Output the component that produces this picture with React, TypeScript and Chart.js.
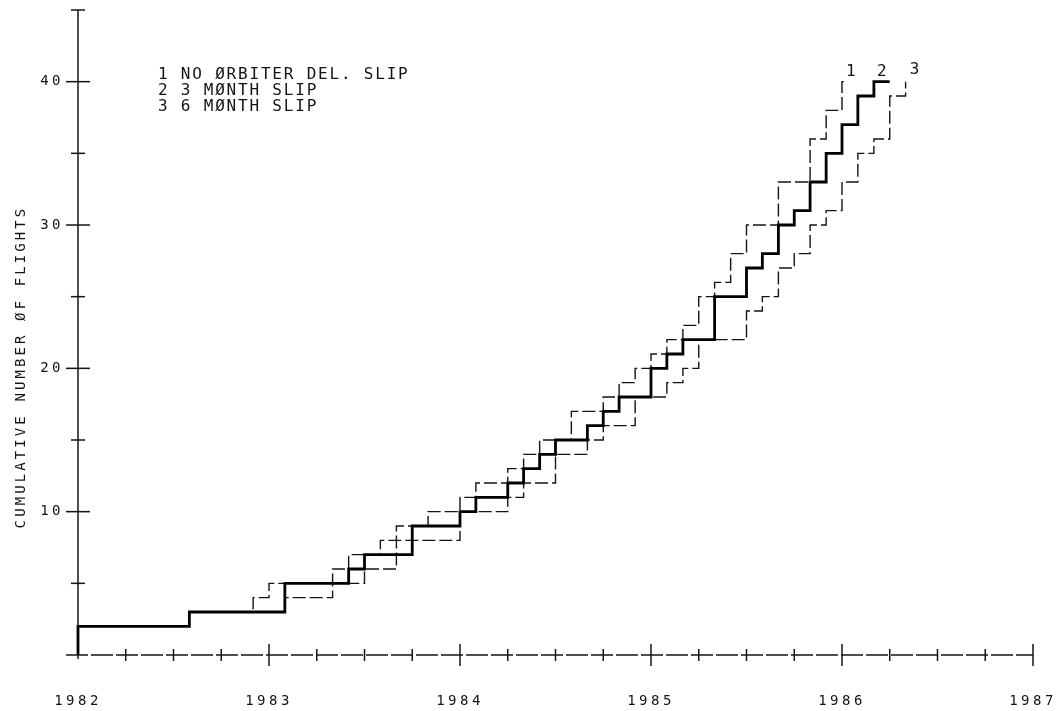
import React, { useEffect, useRef } from 'react';
import { Chart, registerables } from 'chart.js';

Chart.register(...registerables);

// Series 1: no orbiter delivery slip (dashed, leftmost)
const noSlipYears = [1982, 1982, 1982.583, 1982.917, 1983.0, 1983.333, 1983.417, 1983.583, 1983.667, 1983.833, 1984.0, 1984.083, 1984.25, 1984.333, 1984.417, 1984.583, 1984.75, 1984.833, 1984.917, 1985.0, 1985.083, 1985.167, 1985.25, 1985.333, 1985.417, 1985.5, 1985.667, 1985.833, 1985.917, 1986.0, 1986.02];
const noSlipCounts = [0, 2, 3, 4, 5, 6, 7, 8, 9, 10, 11, 12, 13, 14, 15, 17, 18, 19, 20, 21, 22, 23, 25, 26, 28, 30, 33, 36, 38, 40, 40];

// Series 2: 3 month slip (solid)
const threeMonthYears = [1982, 1982, 1982.583, 1983.083, 1983.417, 1983.5, 1983.75, 1984.0, 1984.083, 1984.25, 1984.333, 1984.417, 1984.5, 1984.667, 1984.75, 1984.833, 1985.0, 1985.083, 1985.167, 1985.333, 1985.5, 1985.583, 1985.667, 1985.75, 1985.833, 1985.917, 1986.0, 1986.083, 1986.167, 1986.25];
const threeMonthCounts = [0, 2, 3, 5, 6, 7, 9, 10, 11, 12, 13, 14, 15, 16, 17, 18, 20, 21, 22, 25, 27, 28, 30, 31, 33, 35, 37, 39, 40, 40];

// Series 3: 6 month slip (dashed, rightmost)
const sixMonthYears = [1982, 1982, 1982.583, 1983.083, 1983.333, 1983.5, 1983.667, 1984.0, 1984.25, 1984.333, 1984.5, 1984.667, 1984.75, 1984.917, 1985.083, 1985.167, 1985.25, 1985.5, 1985.583, 1985.667, 1985.75, 1985.833, 1985.917, 1986.0, 1986.083, 1986.167, 1986.25, 1986.333];
const sixMonthCounts = [0, 2, 3, 4, 5, 6, 8, 10, 11, 12, 14, 15, 16, 18, 19, 20, 22, 24, 25, 27, 28, 30, 31, 33, 35, 36, 39, 40];

const xTickYears = [1982, 1983, 1984, 1985, 1986, 1987];
const yTickValues = [10, 20, 30, 40];
const legendLines = ['1 NO ØRBITER DEL. SLIP', '2 3 MØNTH SLIP', '3 6 MØNTH SLIP'];
const seriesTags = ['1', '2', '3'];
const yAxisTitle = 'CUMULATIVE NUMBER ØF FLIGHTS';

const FONT = '"DejaVu Sans Mono", "Liberation Mono", monospace';
const INK = '#141414';

const toPoints = (xs: number[], ys: number[]) => xs.map((x, i) => ({ x, y: ys[i] }));

const plotterPlugin = {
  id: 'plotter',
  beforeDraw(chart: any) {
    chart.ctx.letterSpacing = '3.5px';
  },
  beforeDatasetsDraw(chart: any) {
    const { ctx } = chart;
    const xs = chart.scales.x;
    const ys = chart.scales.y;
    ctx.save();
    ctx.letterSpacing = '0px';
    ctx.strokeStyle = INK;
    const x0 = xs.getPixelForValue(xs.min);
    const x1 = xs.getPixelForValue(xs.max);
    const yTop = ys.getPixelForValue(ys.max);
    const yBot = ys.getPixelForValue(ys.min);
    // y axis
    ctx.lineWidth = 1.5;
    ctx.beginPath();
    ctx.moveTo(x0, yTop);
    ctx.lineTo(x0, yBot + 4);
    ctx.stroke();
    for (let v = ys.min + 5; v <= ys.max; v += 5) {
      const py = ys.getPixelForValue(v);
      const half = yTickValues.includes(v) ? 12 : 7;
      ctx.beginPath();
      ctx.moveTo(x0 - half, py);
      ctx.lineTo(x0 + half, py);
      ctx.stroke();
    }
    // x axis
    ctx.lineWidth = 1.3;
    ctx.setLineDash([22, 3]);
    ctx.beginPath();
    ctx.moveTo(x0 - 12, yBot);
    ctx.lineTo(x1, yBot);
    ctx.stroke();
    ctx.setLineDash([]);
    ctx.lineWidth = 1.5;
    for (let q = 1; q <= (xs.max - xs.min) * 4; q++) {
      const v = xs.min + q / 4;
      const px = xs.getPixelForValue(v);
      const half = q % 4 === 0 ? 11 : 6;
      ctx.beginPath();
      ctx.moveTo(px, yBot - half);
      ctx.lineTo(px, yBot + half);
      ctx.stroke();
    }
    ctx.restore();
  },
  afterDraw(chart: any) {
    const { ctx } = chart;
    const xs = chart.scales.x;
    const ys = chart.scales.y;
    ctx.save();
    ctx.fillStyle = INK;
    // legend block
    ctx.font = `16px ${FONT}`;
    ctx.letterSpacing = '1.8px';
    ctx.textAlign = 'left';
    ctx.textBaseline = 'middle';
    legendLines.forEach((t, i) => ctx.fillText(t, 158, 75 + i * 15.7));
    // series tags at line ends
    const tagOffsets = [[5, -10], [-8, -10], [9, -12]];
    ctx.letterSpacing = '0px';
    ctx.textAlign = 'center';
    chart.data.datasets.forEach((ds: any, i: number) => {
      const last = ds.data[ds.data.length - 1];
      const px = xs.getPixelForValue(last.x) + tagOffsets[i][0];
      const py = ys.getPixelForValue(last.y) + tagOffsets[i][1];
      ctx.fillText(seriesTags[i], px, py);
    });
    // y title
    ctx.translate(21, 367);
    ctx.rotate(-Math.PI / 2);
    ctx.font = `14px ${FONT}`;
    ctx.letterSpacing = '3.1px';
    ctx.textAlign = 'center';
    ctx.fillText(yAxisTitle, 0, 0);
    ctx.restore();
  },
};

export default function App() {
  const ref = useRef<HTMLCanvasElement | null>(null);
  useEffect(() => {
    if (!ref.current) return;
    const chart = new Chart(ref.current, {
      type: 'line',
      data: {
        datasets: [
          {
            label: legendLines[0],
            data: toPoints(noSlipYears, noSlipCounts),
            stepped: true,
            borderColor: INK,
            borderWidth: 1.4,
            borderDash: [13, 4],
            pointRadius: 0,
            fill: false,
            order: 2,
            clip: false,
          } as any,
          {
            label: legendLines[1],
            data: toPoints(threeMonthYears, threeMonthCounts),
            stepped: true,
            borderColor: '#000',
            borderWidth: 2.8,
            pointRadius: 0,
            fill: false,
            order: 0,
            clip: false,
          } as any,
          {
            label: legendLines[2],
            data: toPoints(sixMonthYears, sixMonthCounts),
            stepped: true,
            borderColor: INK,
            borderWidth: 1.4,
            borderDash: [13, 4],
            pointRadius: 0,
            fill: false,
            order: 1,
            clip: false,
          } as any,
        ],
      },
      options: {
        animation: false,
        responsive: false,
        events: [],
        layout: { padding: { top: 10, right: 31, left: 0, bottom: 0 } },
        plugins: {
          legend: { display: false },
          tooltip: { enabled: false },
          title: { display: false },
        },
        scales: {
          x: {
            type: 'linear',
            min: 1982,
            max: 1987,
            grid: { display: false, drawTicks: false },
            border: { display: false },
            afterBuildTicks: (s: any) => {
              s.ticks = xTickYears.map((v) => ({ value: v }));
            },
            afterFit: (s: any) => {
              s.height = 56;
              s.paddingLeft = 0;
              s.paddingRight = 0;
              s.paddingTop = 0;
              s.paddingBottom = 0;
            },
            ticks: {
              autoSkip: false,
              maxRotation: 0,
              minRotation: 0,
              padding: 38,
              color: INK,
              font: { family: FONT, size: 14 },
              callback: (v: any) => String(v),
            },
          },
          y: {
            type: 'linear',
            min: 0,
            max: 45,
            grid: { display: false, drawTicks: false },
            border: { display: false },
            afterBuildTicks: (s: any) => {
              s.ticks = yTickValues.map((v) => ({ value: v }));
            },
            afterFit: (s: any) => {
              s.width = 78;
              s.paddingLeft = 0;
              s.paddingRight = 0;
              s.paddingTop = 0;
              s.paddingBottom = 0;
            },
            ticks: {
              autoSkip: false,
              padding: 14,
              color: INK,
              font: { family: FONT, size: 14 },
              callback: (v: any) => String(v),
            },
          },
        },
      } as any,
      plugins: [plotterPlugin],
    });
    return () => chart.destroy();
  }, []);
  return (
    <canvas
      ref={ref}
      width={1064}
      height={711}
      style={{ display: 'block', position: 'absolute', left: 0, top: 0, background: '#fff' }}
    />
  );
}
